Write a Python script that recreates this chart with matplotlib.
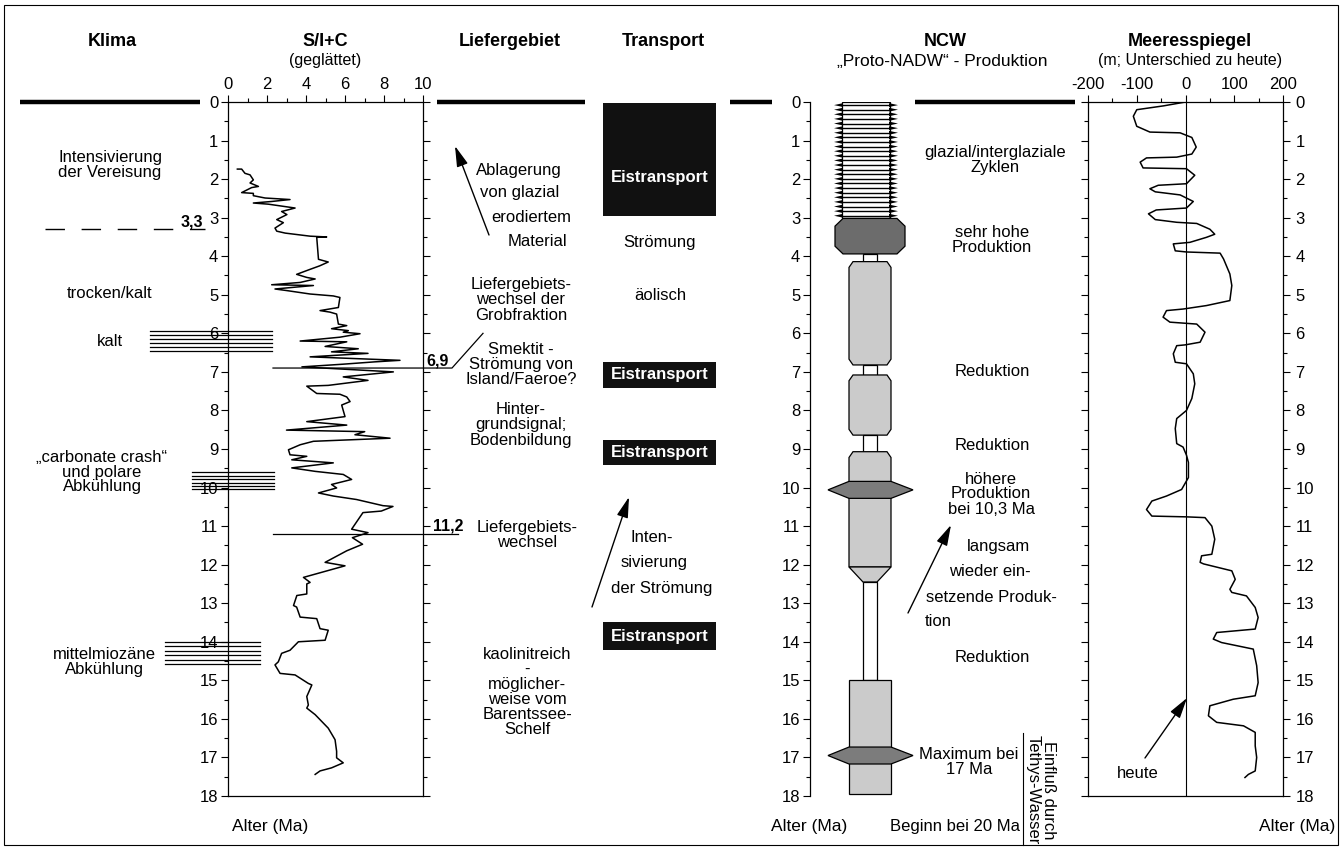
import numpy as np
import matplotlib
matplotlib.use("Agg")
import matplotlib.pyplot as plt
from matplotlib import transforms
from matplotlib.patches import Polygon, Rectangle
from matplotlib.ticker import MultipleLocator

plt.rcParams['font.family'] = ['Liberation Sans', 'DejaVu Sans']
plt.rcParams['font.size'] = 12
plt.rcParams['axes.unicode_minus'] = False

# S/I+C (geglättet) - Alter (Ma) und Wert
si_alter = [1.74, 1.74, 1.85, 1.89, 2.02, 2.10, 2.19, 2.22, 2.35, 2.37, 2.43, 2.49, 2.53, 2.58, 2.62,
            2.65, 2.75, 2.84, 2.92, 3.05, 3.13, 3.27, 3.35, 3.40, 3.48, 3.50, 3.51, 4.08, 4.15, 4.25,
            4.34, 4.47, 4.55, 4.59, 4.68, 4.74, 4.76, 4.85, 4.89, 4.98, 5.03, 5.07, 5.33, 5.41, 5.45,
            5.50, 5.76, 5.80, 5.88, 5.93, 5.97, 6.01, 6.10, 6.20, 6.22, 6.34, 6.40, 6.48, 6.52, 6.61,
            6.70, 6.74, 6.80, 6.87, 7.00, 7.13, 7.22, 7.35, 7.37, 7.56, 7.58, 7.65, 7.77, 7.86, 8.16,
            8.29, 8.38, 8.51, 8.55, 8.63, 8.72, 8.80, 8.89, 9.02, 9.15, 9.19, 9.28, 9.36, 9.49, 9.58,
            9.66, 9.79, 9.92, 10.01, 10.14, 10.22, 10.31, 10.47, 10.49, 10.61, 10.65, 11.08, 11.17,
            11.30, 11.47, 11.64, 11.94, 12.03, 12.33, 12.46, 12.50, 12.76, 12.80, 13.06, 13.10, 13.36,
            13.40, 13.66, 13.70, 13.96, 14.00, 14.22, 14.30, 14.52, 14.60, 14.82, 14.86, 15.08, 15.12,
            15.42, 15.64, 15.72, 15.89, 16.24, 16.54, 16.84, 17.01, 17.14, 17.27, 17.35, 17.44]
si_wert = [0.48, 0.70, 0.87, 1.13, 1.30, 1.13, 1.56, 1.21, 0.70, 1.30, 1.30, 1.90, 3.18, 2.24, 1.30,
           2.07, 3.44, 2.75, 3.02, 2.50, 2.84, 2.41, 2.50, 2.93, 4.21, 5.06, 4.55, 4.64, 5.14, 4.70,
           4.21, 3.52, 4.04, 4.47, 3.70, 2.24, 4.38, 2.41, 3.00, 4.21, 5.40, 5.74, 5.66, 4.72, 5.23,
           5.57, 5.66, 6.09, 5.31, 6.17, 5.91, 6.77, 5.74, 3.70, 6.09, 4.98, 6.68, 5.31, 7.18, 4.21,
           8.82, 7.52, 5.91, 3.79, 8.48, 5.91, 7.18, 5.14, 4.04, 4.55, 5.74, 6.09, 6.26, 5.83, 6.00,
           4.04, 6.09, 3.00, 7.01, 6.51, 8.31, 4.38, 3.70, 3.10, 3.18, 4.04, 3.27, 5.40, 3.27, 4.47,
           5.91, 6.34, 5.31, 5.57, 4.64, 5.40, 6.59, 7.95, 8.46, 7.86, 6.92, 6.34, 7.18,
           6.38, 6.90, 6.09, 4.98, 6.00, 3.87, 4.21, 4.04, 4.04, 3.53, 3.36, 3.52, 3.70,
           4.55, 4.72, 5.14, 4.98, 3.61, 3.18, 2.75, 2.58, 2.41, 2.67, 3.44, 4.12, 4.30,
           4.04, 4.12, 4.04, 4.47, 5.14, 5.49, 5.57, 5.57, 5.91, 5.31, 4.72, 4.47]

# Meeresspiegel (m; Unterschied zu heute)
ms_alter = [0.0, 0.10, 0.20, 0.37, 0.63, 0.78, 0.80, 0.92, 1.17, 1.35, 1.43, 1.45, 1.56, 1.71, 1.73,
            1.90, 2.12, 2.16, 2.25, 2.33, 2.41, 2.58, 2.75, 2.80, 2.90, 3.05, 3.12, 3.15, 3.30, 3.43,
            3.51, 3.64, 3.68, 3.86, 3.89, 3.92, 4.07, 4.46, 4.76, 5.15, 5.28, 5.37, 5.41, 5.58, 5.71,
            5.76, 5.97, 6.23, 6.30, 6.32, 6.53, 6.75, 6.79, 7.05, 7.31, 7.69, 8.00, 8.21, 8.47, 8.86,
            8.95, 9.16, 9.35, 9.74, 10.05, 10.22, 10.35, 10.57, 10.74, 10.76, 10.78, 11.00, 11.34,
            11.73, 11.77, 11.94, 11.98, 12.16, 12.38, 12.64, 12.72, 12.81, 13.11, 13.37, 13.67, 13.76,
            13.93, 14.02, 14.19, 14.62, 15.06, 15.40, 15.49, 15.66, 15.92, 16.09, 16.18, 16.35, 16.70,
            17.00, 17.35, 17.44, 17.52]
ms_wert = [0, -45, -100, -107, -100, -73, -11, 13, 22, 13, -18, -80, -93, -87, 2,
           19, 2, -56, -73, -62, -11, 16, 2, -60, -76, -62, -18, 23, 50, 60,
           43, 9, -25, -21, 2, 71, 78, 91, 95, 91, 43, -5, -39, -46, -32,
           23, 40, 30, -1, -18, -25, -21, 2, 16, 19, 13, 2, -18, -21, -18,
           -5, 2, 6, 6, -8, -39, -69, -80, -69, 2, 40, 54, 60,
           54, 33, 30, 37, 95, 102, 91, 95, 125, 143, 149, 143, 64,
           57, 74, 139, 146, 149, 143, 98, 50, 47, 64, 119, 143, 143,
           146, 143, 129, 122]

# NCW ("Proto-NADW") - Produktion
ncw_von = [0.0, 3.02, 3.94, 4.14, 6.82, 7.08, 8.64, 9.07, 12.06, 12.45, 15.0]
ncw_bis = [3.02, 3.94, 4.14, 6.82, 7.08, 8.64, 9.07, 12.06, 12.45, 15.0, 17.95]
ncw_typ = ['zyklen', 'sehr hoch', 'gering', 'mittel', 'gering', 'mittel', 'gering', 'mittel',
           'abnehmend', 'gering', 'hoch']
ncw_maximum = [10.06, 16.95]

# Klima: Abkuehlungsphasen, Transport: Eistransport
kalt_von = [5.95, 9.60, 14.00]
kalt_bis = [6.45, 10.05, 14.58]
eis_von = [0.03, 6.74, 8.77, 13.49]
eis_bis = [2.96, 7.42, 9.42, 14.22]
grenzen = [3.3, 6.9, 11.2]

W, H = 1342, 847
Y0, Y18 = 102, 796

fig = plt.figure(figsize=(W / 100, H / 100), dpi=100)


def achse(x0, x1):
    return fig.add_axes([x0 / W, 1 - Y18 / H, (x1 - x0) / W, (Y18 - Y0) / H])


ax_si = achse(228, 423)
ax_ncw = achse(810, 1080)
ax_ms = achse(1088, 1283)

for ax in (ax_si, ax_ncw, ax_ms):
    ax.set_ylim(18, 0)
    ax.set_yticks(range(19))
    ax.yaxis.set_minor_locator(MultipleLocator(0.5))
    ax.tick_params(which='major', length=5, width=0.8, labelsize=12, pad=2)
    ax.tick_params(which='minor', length=3, width=0.8)
    for s in ax.spines.values():
        s.set_linewidth(0.9)

# S/I+C
ax_si.plot(si_wert, si_alter, color='k', lw=1.1)
ax_si.set_xlim(0, 10)
ax_si.xaxis.set_major_locator(MultipleLocator(2))
ax_si.xaxis.set_minor_locator(MultipleLocator(1))
ax_si.tick_params(axis='x', which='both', top=True, bottom=False, labeltop=True, labelbottom=False)
ax_si.tick_params(axis='y', which='both', left=True, right=True)

# Meeresspiegel
ax_ms.plot(ms_wert, ms_alter, color='k', lw=1.1)
ax_ms.plot([0, 0], [0, 18], color='k', lw=0.8)
ax_ms.set_xlim(-200, 200)
ax_ms.xaxis.set_major_locator(MultipleLocator(100))
ax_ms.xaxis.set_minor_locator(MultipleLocator(50))
ax_ms.tick_params(axis='x', which='both', top=True, bottom=False, labeltop=True, labelbottom=False)
ax_ms.tick_params(axis='y', which='both', left=True, right=True, labelleft=False, labelright=True, pad=4)

# NCW-Saeule
ax_ncw.set_xlim(-60, 210)
ax_ncw.set_xticks([])
ax_ncw.patch.set_visible(False)
for s in ('top', 'right', 'bottom'):
    ax_ncw.spines[s].set_visible(False)

breite = {'zyklen': 24, 'sehr hoch': 35, 'gering': 7, 'mittel': 21, 'hoch': 21}
farbe = {'zyklen': 'white', 'sehr hoch': '#6c6c6c', 'gering': 'white', 'mittel': '#cbcbcb',
         'hoch': '#cbcbcb', 'abnehmend': '#cbcbcb'}

for i, (a, b, t) in enumerate(zip(ncw_von, ncw_bis, ncw_typ)):
    vor = ncw_typ[i - 1] if i > 0 else None
    nach = ncw_typ[i + 1] if i + 1 < len(ncw_typ) else None
    if t == 'abnehmend':
        pts = [(-21, a), (21, a), (7, b), (-7, b)]
    else:
        hw = breite[t]
        c_o = c_u = 0
        innen = hw
        if t == 'sehr hoch':
            c_o = c_u = 0.2
            innen = hw - 8
        elif t == 'mittel':
            innen = hw - 4
            c_o = 0.15 if vor == 'gering' else 0
            c_u = 0.15 if nach == 'gering' else 0
        xc = -4 if t == 'zyklen' else 0
        pts = [(xc - (innen if c_o else hw), a), (xc + (innen if c_o else hw), a),
               (xc + hw, a + c_o), (xc + hw, b - c_u),
               (xc + (innen if c_u else hw), b), (xc - (innen if c_u else hw), b),
               (xc - hw, b - c_u), (xc - hw, a + c_o)]
    ax_ncw.add_patch(Polygon(pts, closed=True, fc=farbe[t], ec='k', lw=0.9))
    if t == 'zyklen':
        for y in np.linspace(a + 0.08, b - 0.07, 25):
            ax_ncw.plot([-28, 20], [y, y], color='k', lw=1.0)
            ax_ncw.add_patch(Polygon([(19, y - 0.05), (28, y), (19, y + 0.05)], fc='k', ec='none'))
            ax_ncw.add_patch(Polygon([(-27, y - 0.05), (-36, y), (-27, y + 0.05)], fc='k', ec='none'))

for m in ncw_maximum:
    ax_ncw.add_patch(Polygon([(-21, m - 0.22), (21, m - 0.22), (43, m), (21, m + 0.22),
                              (-21, m + 0.22), (-42, m)], fc='#7c7c7c', ec='k', lw=0.9))

# Overlay in Pixelkoordinaten
ov = fig.add_axes([0, 0, 1, 1])
ov.set_xlim(0, W)
ov.set_ylim(H, 0)
ov.axis('off')
tr = transforms.blended_transform_factory(ov.transData, ax_si.transData)

ov.add_patch(Rectangle((4, 5), 1334, 840, fill=False, lw=0.8, ec='k'))

for x0, x1 in [(20, 200), (437, 585), (730, 772), (915, 1075)]:
    ov.plot([x0, x1], [0, 0], transform=tr, color='k', lw=3.2, solid_capstyle='butt')

# Klima
for (a, b), (x0, x1) in zip(zip(kalt_von, kalt_bis), [(150, 272), (192, 274), (165, 260)]):
    for y in np.linspace(a, b, 6):
        ov.plot([x0, x1], [y, y], transform=tr, color='k', lw=0.9)

ov.plot([45, 205], [grenzen[0], grenzen[0]], transform=tr, color='k', lw=1.0, dashes=(14, 12))
ov.plot([273, 452, 483], [grenzen[1], grenzen[1], 6.0], transform=tr, color='k', lw=0.9)
ov.plot([273, 458], [grenzen[2], grenzen[2]], transform=tr, color='k', lw=0.9)
ov.text(192, grenzen[0], '3,3', transform=tr, ha='center', va='bottom', fontweight='bold', fontsize=11.5)
ov.text(438, grenzen[1], '6,9', transform=tr, ha='center', va='bottom', fontweight='bold', fontsize=11.5)
ov.text(448, grenzen[2], '11,2', transform=tr, ha='center', va='bottom', fontweight='bold', fontsize=11.5)

# Eistransport
for a, b in zip(eis_von, eis_bis):
    ov.add_patch(Rectangle((603, a), 113, b - a, transform=tr, fc='#111111', ec='none'))
    ym = (a + b) / 2 if b - a < 1 else a + 0.66 * (b - a)
    ov.text(660, ym, 'Eistransport', transform=tr, ha='center', va='center', color='white',
            fontweight='bold')


def t(x, y, s, **kw):
    kw.setdefault('ha', 'center')
    ov.text(x, y, s, va='center', linespacing=1.0, **kw)


# Kopfzeile
for x, s in [(112, 'Klima'), (325, 'S/I+C'), (510, 'Liefergebiet'), (663, 'Transport'),
             (945, 'NCW'), (1190, 'Meeresspiegel')]:
    t(x, 42, s, fontweight='bold', fontsize=13)
t(325, 61, '(geglättet)', fontsize=11.5)
t(942, 61, '„Proto-NADW“ - Produktion', fontsize=12.5)
t(1190, 61, '(m; Unterschied zu heute)', fontsize=11.5)

# Klima-Texte
t(110, 165, 'Intensivierung\nder Vereisung')
t(110, 294, 'trocken/kalt')
t(110, 342, 'kalt')
t(102, 472, '„carbonate crash“\nund polare\nAbkühlung')
t(104, 662, 'mittelmiozäne\nAbkühlung')

# Liefergebiet
t(519, 170, 'Ablagerung')
t(520, 192, 'von glazial')
t(531, 217, 'erodiertem')
t(537, 242, 'Material')
t(521, 300, 'Liefergebiets-\nwechsel der\nGrobfraktion')
t(521, 365, 'Smektit -\nStrömung von\nIsland/Faeroe?')
t(521, 425, 'Hinter-\ngrundsignal;\nBodenbildung')
t(527, 535, 'Liefergebiets-\nwechsel')
t(527, 692, 'kaolinitreich\n-\nmöglicher-\nweise vom\nBarentssee-\nSchelf')

# Transport
t(660, 242, 'Strömung')
t(660, 295, 'äolisch')
t(652, 538, 'Inten-')
t(654, 563, 'sivierung')
t(662, 588, 'der Strömung')

# NCW-Texte
t(995, 160, 'glazial/interglaziale\nZyklen')
t(992, 240, 'sehr hohe\nProduktion')
t(992, 372, 'Reduktion')
t(992, 446, 'Reduktion')
t(991, 494, 'höhere\nProduktion\nbei 10,3 Ma')
t(999, 546, 'langsam')
t(990, 572, 'wieder ein-')
t(991, 597, 'setzende Produk-')
t(938, 622, 'tion')
t(992, 657, 'Reduktion')
t(969, 762, 'Maximum bei\n17 Ma')
t(955, 826, 'Beginn bei 20 Ma')
ov.plot([1023, 1023], [733, 845], color='k', lw=0.8)
t(1041, 790, 'Einfluß durch\nTethys-Wasser', rotation=-90)

t(1138, 774, 'heute')
t(270, 826, 'Alter (Ma)', fontsize=12.5)
t(809, 826, 'Alter (Ma)', fontsize=12.5)
t(1297, 826, 'Alter (Ma)', fontsize=12.5)

pfeil = dict(arrowstyle='-|>,head_length=0.9,head_width=0.25', color='k', lw=1.0,
             shrinkA=0, shrinkB=0, mutation_scale=14)
for tail, head in [((489, 235), (455, 146)), ((592, 607), (629, 497)),
                   ((908, 613), (951, 525)), ((1145, 758), (1187, 698))]:
    ov.annotate('', xy=head, xytext=tail, arrowprops=pfeil)

fig.savefig('out.png', dpi=100)
